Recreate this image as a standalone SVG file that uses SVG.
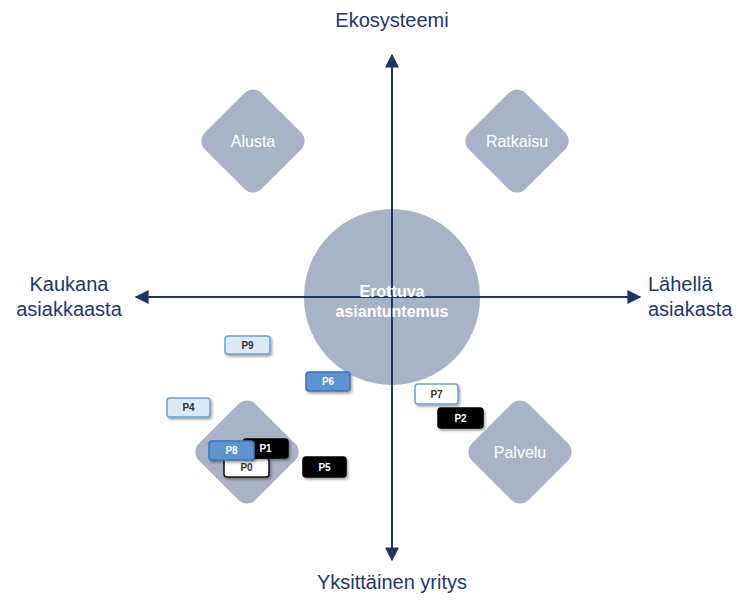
<svg xmlns="http://www.w3.org/2000/svg" width="741" height="612" viewBox="0 0 741 612">
  <defs>
    <marker id="arrow" viewBox="0 0 10 10" refX="9" refY="5" markerWidth="7" markerHeight="7" markerUnits="strokeWidth" orient="auto">
      <path d="M0,0 L10,5 L0,10 z" fill="#1f3464"/>
    </marker>
    <filter id="shadow" x="-20%" y="-30%" width="150%" height="180%">
      <feDropShadow dx="1.5" dy="2" stdDeviation="1.2" flood-color="#000" flood-opacity="0.35"/>
    </filter>
  </defs>
  <style>
    .axis-label { font-family: "Liberation Sans", Arial, sans-serif; font-size: 20px; fill: #22366a; }
    .shape { fill: #a9b3c7; }
    .shape-text { font-family: "Liberation Sans", Arial, sans-serif; font-size: 16px; fill: #ffffff; text-anchor: middle; }
    .core-text { font-family: "Liberation Sans", Arial, sans-serif; font-size: 16px; font-weight: bold; fill: #ffffff; text-anchor: middle; }
    .tag rect { rx: 3; ry: 3; filter: url(#shadow); stroke-width: 1.5; }
    .tag text { font-family: "Liberation Sans", Arial, sans-serif; font-size: 10px; font-weight: bold; text-anchor: middle; }
    .light rect { fill: #dce9f7; stroke: #6b9fd3; }
    .light text { fill: #333333; }
    .mid rect { fill: #5b94d3; stroke: #3f74b3; }
    .mid text { fill: #ffffff; }
    .dark rect { fill: #000000; stroke: #000000; }
    .dark text { fill: #ffffff; }
    .white rect { fill: #ffffff; stroke: #6b9fd3; }
    .white text { fill: #333333; }
    .whitedark rect { fill: #ffffff; stroke: #111111; }
    .whitedark text { fill: #333333; }
  </style>

  <rect width="741" height="612" fill="#ffffff"/>

  <!-- central circle -->
  <g id="core">
    <circle class="shape" cx="392" cy="297" r="88"/>
  </g>

  <!-- quadrant diamonds -->
  <g id="alusta">
    <rect class="shape" x="-40" y="-40" width="80" height="80" rx="12" transform="translate(253,141) rotate(45)"/>
    <text class="shape-text" x="253" y="147">Alusta</text>
  </g>
  <g id="ratkaisu">
    <rect class="shape" x="-40" y="-40" width="80" height="80" rx="12" transform="translate(517,141) rotate(45)"/>
    <text class="shape-text" x="517" y="147">Ratkaisu</text>
  </g>
  <g id="palvelu">
    <rect class="shape" x="-40" y="-40" width="80" height="80" rx="12" transform="translate(520,452) rotate(45)"/>
    <text class="shape-text" x="520" y="458">Palvelu</text>
  </g>
  <g id="tuote">
    <rect class="shape" x="-40" y="-40" width="80" height="80" rx="12" transform="translate(247,452) rotate(45)"/>
  </g>

  <!-- axes -->
  <g id="axes" fill="none" stroke="#1f3464" stroke-width="2">
    <line x1="392" y1="560" x2="392" y2="55" marker-end="url(#arrow)"/>
    <line x1="392" y1="55" x2="392" y2="560" marker-end="url(#arrow)"/>
    <line x1="392" y1="297" x2="640" y2="297" marker-end="url(#arrow)"/>
    <line x1="392" y1="297" x2="136" y2="297" marker-end="url(#arrow)"/>
  </g>

  <g id="core-label">
    <text class="core-text" x="392" y="297">Erottuva</text>
    <text class="core-text" x="392" y="317">asiantuntemus</text>
  </g>

  <!-- axis labels -->
  <text class="axis-label" x="392" y="27" text-anchor="middle">Ekosysteemi</text>
  <text class="axis-label" x="392" y="589" text-anchor="middle">Yksittäinen yritys</text>
  <text class="axis-label" x="69" y="291" text-anchor="middle">Kaukana</text>
  <text class="axis-label" x="69" y="316" text-anchor="middle">asiakkaasta</text>
  <text class="axis-label" x="648" y="291">Lähellä</text>
  <text class="axis-label" x="648" y="316">asiakasta</text>

  <!-- project tags -->
  <g id="p9" class="tag light"><rect x="225" y="336" width="45" height="18"/><text x="247.5" y="349">P9</text></g>
  <g id="p6" class="tag mid"><rect x="306" y="372" width="44" height="19"/><text x="328" y="385">P6</text></g>
  <g id="p4" class="tag light"><rect x="167" y="398" width="43" height="19"/><text x="188.5" y="411">P4</text></g>
  <g id="p7" class="tag white"><rect x="415" y="384" width="43" height="20"/><text x="436.5" y="398">P7</text></g>
  <g id="p2" class="tag dark"><rect x="438" y="408" width="45" height="20"/><text x="460.5" y="422">P2</text></g>
  <g id="p0" class="tag whitedark"><rect x="224" y="458" width="45" height="19"/><text x="246.5" y="471">P0</text></g>
  <g id="p1" class="tag dark"><rect x="243" y="439" width="45" height="19"/><text x="265.5" y="452">P1</text></g>
  <g id="p8" class="tag mid"><rect x="209" y="441" width="45" height="19"/><text x="231.5" y="454">P8</text></g>
  <g id="p5" class="tag dark"><rect x="303" y="457" width="43" height="20"/><text x="324.5" y="471">P5</text></g>
</svg>
